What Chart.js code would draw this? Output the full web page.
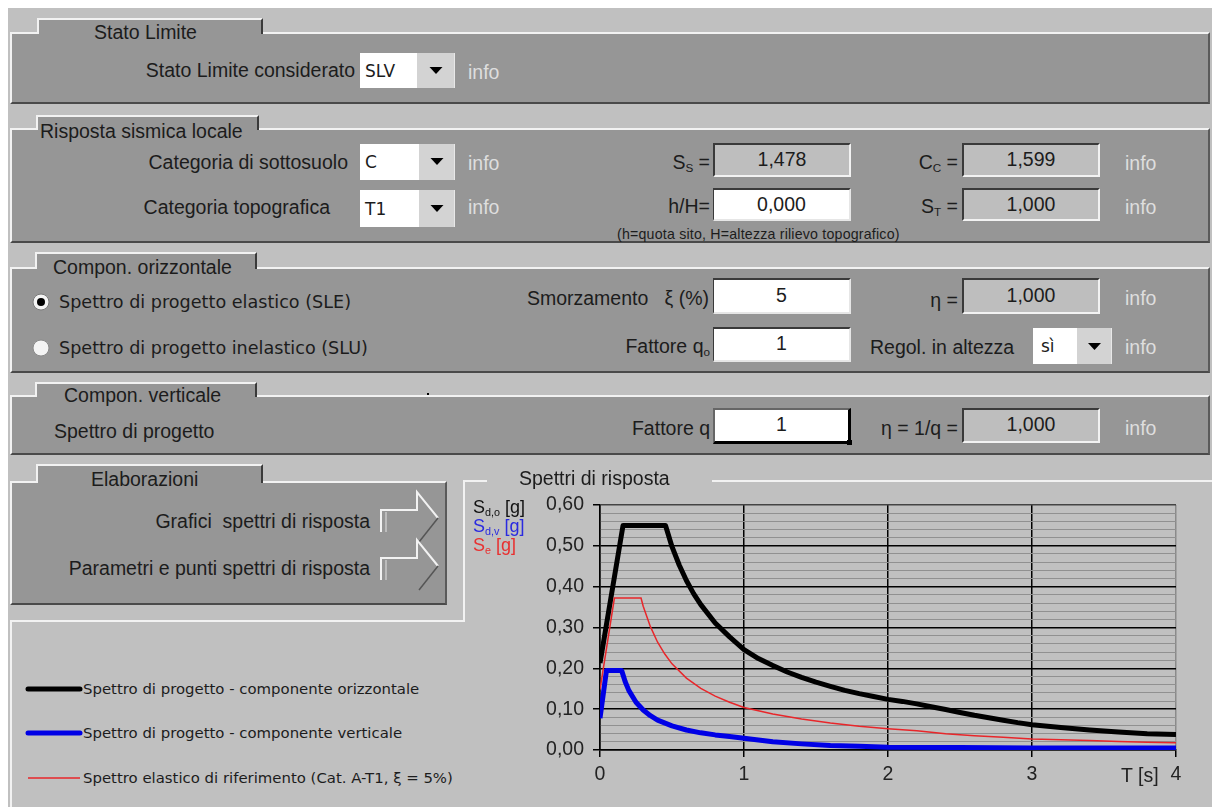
<!DOCTYPE html>
<html>
<head>
<meta charset="utf-8">
<script src="https://cdn.jsdelivr.net/npm/chart.js@4.4.0/dist/chart.umd.min.js"></script>
<style>
html,body{margin:0;padding:0;}
body{width:1212px;height:807px;position:relative;overflow:hidden;background:#fff;font-family:"Liberation Sans",Arial,sans-serif;color:#1c1c1c;}
#bg{position:absolute;left:8px;top:8px;width:1204px;height:799px;background:#c0c0c0;}
.panel{position:absolute;background:#969696;border-top:2px solid #f2f2f2;border-left:2px solid #f2f2f2;border-bottom:2px solid #4a4a4a;border-right:2px solid #5a5a5a;box-sizing:border-box;z-index:1;}
.tab{position:absolute;background:#969696;border-top:2px solid #f2f2f2;border-left:2px solid #f2f2f2;border-right:2px solid #3a3a3a;box-sizing:border-box;z-index:2;}
.t{position:absolute;white-space:nowrap;font-size:19.5px;line-height:20px;height:20px;z-index:3;}
.info{color:#dedede;}
.v{font-family:"DejaVu Sans",Verdana,sans-serif;}
.box{position:absolute;box-sizing:border-box;z-index:3;font-size:19.5px;text-align:center;white-space:nowrap;}
.wb{background:#fff;border-top:2px solid #3a3a3a;border-left:1px solid #3a3a3a;border-bottom:2px solid #e6e6e6;border-right:2px solid #e6e6e6;}
.gb{background:#bebebe;border-top:2px solid #3a3a3a;border-left:2px solid #3a3a3a;border-bottom:2px solid #f2f2f2;border-right:2px solid #f2f2f2;}
.dd{background:#fff;text-align:left;font-family:"DejaVu Sans",Verdana,sans-serif;font-size:17px;padding-left:5px;}
.ab{background:#d3d3d3;border-right:1px solid #e8e8e8;}
.line{position:absolute;background:#f2f2f2;z-index:2;}
sub{font-size:60%;vertical-align:-3px;line-height:0;}
#chartwrap{position:absolute;left:465px;top:482px;width:747px;height:325px;z-index:1;}
#ov{position:absolute;left:0;top:0;z-index:5;pointer-events:none;}
</style>
</head>
<body>
<div id="bg"></div>

<!-- Panel 1 -->
<div class="panel" style="left:10px;top:32px;width:1200px;height:72px;"></div>
<div class="tab" style="left:37px;top:18px;width:226px;height:16px;"></div>
<div class="t" style="left:94px;top:22px;">Stato Limite</div>
<div class="t" style="right:857px;top:60px;">Stato Limite considerato</div>
<div class="box dd" style="left:360px;top:53px;width:57px;height:35px;line-height:37px;">SLV</div>
<div class="box ab" style="left:417px;top:53px;width:38px;height:35px;"></div>
<div class="t info" style="left:468px;top:62px;">info</div>

<!-- Panel 2 -->
<div class="panel" style="left:10px;top:128px;width:1200px;height:115px;"></div>
<div class="tab" style="left:36px;top:115px;width:223px;height:15px;"></div>
<div class="t" style="left:40px;top:121px;">Risposta sismica locale</div>
<div class="t" style="right:864px;top:152px;">Categoria di sottosuolo</div>
<div class="box dd" style="left:360px;top:144px;width:59px;height:36px;line-height:36px;">C</div>
<div class="box ab" style="left:419px;top:144px;width:36px;height:36px;"></div>
<div class="t info" style="left:468px;top:153px;">info</div>
<div class="t" style="right:502px;top:152px;">S<sub>S</sub> =</div>
<div class="box gb" style="left:713px;top:143px;width:138px;height:34px;line-height:29px;">1,478</div>
<div class="t" style="right:254px;top:152px;">C<sub>C</sub> =</div>
<div class="box gb" style="left:962px;top:143px;width:138px;height:34px;line-height:29px;">1,599</div>
<div class="t info" style="left:1125px;top:153px;">info</div>

<div class="t" style="right:882px;top:197px;">Categoria topografica</div>
<div class="box dd" style="left:360px;top:190px;width:59px;height:37px;line-height:39px;">T1</div>
<div class="box ab" style="left:419px;top:190px;width:36px;height:37px;"></div>
<div class="t info" style="left:468px;top:197px;">info</div>
<div class="t" style="right:502px;top:196px;">h/H=</div>
<div class="box wb" style="left:713px;top:188px;width:138px;height:33px;line-height:29px;">0,000</div>
<div class="t" style="right:254px;top:196px;">S<sub>T</sub> =</div>
<div class="box gb" style="left:962px;top:188px;width:138px;height:33px;line-height:28px;">1,000</div>
<div class="t info" style="left:1125px;top:197px;">info</div>
<div class="t" style="left:617px;top:224px;font-size:14.2px;letter-spacing:0.2px;">(h=quota sito, H=altezza rilievo topografico)</div>

<!-- Panel 3 -->
<div class="panel" style="left:10px;top:267px;width:1200px;height:106px;"></div>
<div class="tab" style="left:35px;top:252px;width:222px;height:17px;"></div>
<div class="t" style="left:53px;top:257px;">Compon. orizzontale</div>
<div class="t v" style="left:59px;top:292px;font-size:17.6px;">Spettro di progetto elastico (SLE)</div>
<div class="t v" style="left:59px;top:338px;font-size:17.6px;">Spettro di progetto inelastico (SLU)</div>
<div class="t" style="right:503px;top:288px;">Smorzamento &nbsp;&nbsp;ξ (%)</div>
<div class="box wb" style="left:713px;top:278px;width:138px;height:36px;line-height:30px;">5</div>
<div class="t" style="right:254px;top:290px;">η =</div>
<div class="box gb" style="left:962px;top:278px;width:138px;height:36px;line-height:30px;">1,000</div>
<div class="t info" style="left:1125px;top:288px;">info</div>
<div class="t" style="right:502px;top:336px;">Fattore q<sub>o</sub></div>
<div class="box wb" style="left:713px;top:327px;width:138px;height:35px;line-height:28px;">1</div>
<div class="t" style="left:870px;top:337px;">Regol. in altezza</div>
<div class="box dd" style="left:1033px;top:328px;width:44px;height:36px;line-height:36px;padding-left:8px;">sì</div>
<div class="box ab" style="left:1077px;top:328px;width:35px;height:36px;"></div>
<div class="t info" style="left:1125px;top:337px;">info</div>

<!-- Panel 4 -->
<div class="panel" style="left:10px;top:395px;width:1200px;height:60px;"></div>
<div class="tab" style="left:35px;top:382px;width:222px;height:15px;"></div>
<div class="t" style="left:64px;top:385px;">Compon. verticale</div>
<div class="t" style="left:54px;top:421px;">Spettro di progetto</div>
<div class="t" style="right:502px;top:418px;">Fattore q</div>
<div class="box" style="left:713px;top:408px;width:138px;height:36px;line-height:29px;background:#fff;border-top:2px solid #666;border-left:2px solid #666;border-right:3px solid #000;border-bottom:3px solid #000;">1</div>
<div class="t" style="right:254px;top:418px;">η = 1/q =</div>
<div class="box gb" style="left:962px;top:408px;width:138px;height:35px;line-height:29px;">1,000</div>
<div class="t info" style="left:1125px;top:418px;">info</div>

<!-- Panel 5 -->
<div class="panel" style="left:10px;top:481px;width:437px;height:124px;"></div>
<div class="tab" style="left:36px;top:464px;width:227px;height:19px;"></div>
<div class="t" style="left:91px;top:469px;">Elaborazioni</div>
<div class="t" style="right:842px;top:511px;">Grafici &nbsp;spettri di risposta</div>
<div class="t" style="right:842px;top:558px;">Parametri e punti spettri di risposta</div>

<!-- frames -->
<div class="line" style="left:463px;top:480px;width:24px;height:2px;"></div>
<div class="line" style="left:712px;top:480px;width:500px;height:2px;"></div>
<div class="line" style="left:463px;top:480px;width:2px;height:142px;"></div>
<div class="line" style="left:10px;top:620px;width:455px;height:2px;"></div>
<div class="line" style="left:10px;top:620px;width:2px;height:187px;"></div>
<div class="t" style="left:519px;top:468px;">Spettri di risposta</div>

<!-- legend -->
<div class="t v" style="left:83px;top:679px;font-size:14.9px;">Spettro di progetto - componente orizzontale</div>
<div class="t v" style="left:83px;top:723px;font-size:14.9px;">Spettro di progetto - componente verticale</div>
<div class="t v" style="left:83px;top:768px;font-size:14.9px;">Spettro elastico di riferimento (Cat. A-T1, ξ = 5%)</div>

<!-- axis titles -->
<div class="t" style="left:473px;top:497px;font-size:18px;color:#111;z-index:6;">S<sub>d,o</sub> [g]</div>
<div class="t" style="left:473px;top:516px;font-size:18px;color:#2a2ae0;z-index:6;">S<sub>d,v</sub> [g]</div>
<div class="t" style="left:473px;top:535px;font-size:18px;color:#e83030;z-index:6;">S<sub>e</sub> [g]</div>
<div class="t" style="left:1121px;top:765px;z-index:6;color:#222;">T [s]</div>

<div id="chartwrap"><canvas id="c" width="747" height="325"></canvas></div>

<svg id="ov" width="1212" height="807">
  <!-- dropdown triangles -->
  <polygon points="429.5,67 442.5,67 436,74" fill="#000"/>
  <polygon points="430.5,158 443.5,158 437,165" fill="#000"/>
  <polygon points="430.5,205 443.5,205 437,212" fill="#000"/>
  <polygon points="1088,343 1101,343 1094.5,350" fill="#000"/>
  <!-- radios -->
  <circle cx="41" cy="302" r="8" fill="#f4f4f4" stroke="#7a7a7a" stroke-width="1"/>
  <circle cx="41" cy="302" r="4" fill="#000"/>
  <circle cx="41" cy="348" r="8" fill="#f4f4f4" stroke="#8a8a8a" stroke-width="1"/>
  <!-- dot -->
  <rect x="427" y="393" width="2" height="2" fill="#000"/>
  <!-- fill handle -->
  <rect x="847" y="440" width="5" height="5" fill="#000"/>
  <!-- arrows -->
  <polyline points="381,532 381,510 417,510 417,492 438,518" fill="none" stroke="#f2f2f2" stroke-width="2"/>
  <line x1="386" y1="512" x2="386" y2="532" stroke="#e2e2e2" stroke-width="1"/>
  <line x1="438" y1="518" x2="419" y2="542" stroke="#555" stroke-width="1.5"/>
  <polyline points="381,580 381,558 417,558 417,540 438,566" fill="none" stroke="#f2f2f2" stroke-width="2"/>
  <line x1="386" y1="560" x2="386" y2="580" stroke="#e2e2e2" stroke-width="1"/>
  <line x1="438" y1="566" x2="419" y2="590" stroke="#555" stroke-width="1.5"/>
  <!-- legend lines -->
  <line x1="28" y1="689" x2="80" y2="689" stroke="#000" stroke-width="5" stroke-linecap="round"/>
  <line x1="28" y1="733" x2="80" y2="733" stroke="#0000e6" stroke-width="5" stroke-linecap="round"/>
  <line x1="28" y1="778" x2="80" y2="778" stroke="#e8262a" stroke-width="1.5"/>
</svg>

<script>
// Spettro di progetto - componente orizzontale (Sd,o)
const T_oriz = [0, 0.16, 0.455, 0.5, 0.55, 0.6, 0.65, 0.7, 0.8, 0.9, 1.0, 1.1, 1.2, 1.3, 1.4, 1.5, 1.6, 1.7, 1.8, 1.9, 2.0, 2.1, 2.2, 2.3, 2.4, 2.5, 2.6, 2.7, 2.8, 2.9, 3.0, 3.2, 3.4, 3.6, 3.8, 4.0];
const Sd_o   = [0.213, 0.550, 0.550, 0.498, 0.453, 0.415, 0.383, 0.356, 0.311, 0.277, 0.246, 0.224, 0.207, 0.191, 0.178, 0.166, 0.156, 0.146, 0.138, 0.131, 0.124, 0.119, 0.113, 0.106, 0.099, 0.092, 0.085, 0.079, 0.073, 0.067, 0.062, 0.055, 0.049, 0.044, 0.040, 0.038];
// Spettro di progetto - componente verticale (Sd,v)
const T_vert = [0, 0.045, 0.15, 0.175, 0.2, 0.25, 0.3, 0.35, 0.4, 0.5, 0.6, 0.7, 0.8, 0.9, 1.0, 1.2, 1.4, 1.6, 1.8, 2.0, 2.5, 3.0, 3.5, 4.0];
const Sd_v   = [0.078, 0.195, 0.195, 0.167, 0.146, 0.117, 0.098, 0.084, 0.073, 0.059, 0.049, 0.042, 0.037, 0.033, 0.029, 0.020, 0.015, 0.011, 0.009, 0.007, 0.006, 0.005, 0.005, 0.005];
// Spettro elastico di riferimento (Se)
const T_rif  = [0, 0.1, 0.285, 0.3, 0.35, 0.4, 0.45, 0.5, 0.6, 0.7, 0.8, 0.9, 1.0, 1.2, 1.4, 1.6, 1.8, 2.0, 2.2, 2.4, 2.6, 2.8, 3.0, 3.2, 3.4, 3.6, 3.8, 4.0];
const Se     = [0.148, 0.372, 0.372, 0.352, 0.302, 0.264, 0.235, 0.211, 0.176, 0.151, 0.132, 0.117, 0.104, 0.088, 0.076, 0.066, 0.058, 0.052, 0.047, 0.040, 0.035, 0.031, 0.027, 0.025, 0.023, 0.021, 0.019, 0.018];

const seriesLabels = ['Spettro di progetto - componente orizzontale', 'Spettro di progetto - componente verticale', 'Spettro elastico di riferimento (Cat. A-T1, ξ = 5%)'];
const yTickLabels = ['0,00', '0,10', '0,20', '0,30', '0,40', '0,50', '0,60'];
const xTickLabels = ['0', '1', '2', '3', '4'];

const toXY = (t, v) => t.map((x, i) => ({ x: x, y: v[i] }));
const isMajorY = v => Math.abs(v * 10 - Math.round(v * 10)) < 1e-6;

new Chart(document.getElementById('c'), {
  type: 'line',
  data: {
    datasets: [
      { label: seriesLabels[0], data: toXY(T_oriz, Sd_o), borderColor: '#000000', borderWidth: 5, pointRadius: 0, tension: 0, order: 3, borderJoinStyle: 'round' },
      { label: seriesLabels[1], data: toXY(T_vert, Sd_v), borderColor: '#0000e6', borderWidth: 5, pointRadius: 0, tension: 0, order: 2, borderJoinStyle: 'round' },
      { label: seriesLabels[2], data: toXY(T_rif, Se), borderColor: '#e8262a', borderWidth: 1.5, pointRadius: 0, tension: 0, order: 1 }
    ]
  },
  options: {
    responsive: false,
    animation: false,
    layout: { padding: { top: 23, right: 36, left: 0, bottom: 0 } },
    plugins: { legend: { display: false }, tooltip: { enabled: false } },
    scales: {
      x: {
        type: 'linear', min: 0, max: 4,
        ticks: {
          stepSize: 1, autoSkip: false, maxRotation: 0, padding: 6,
          color: '#222', font: { family: 'Liberation Sans', size: 19.5 },
          callback: v => { const i = Math.round(v); return Math.abs(v - i) < 1e-6 && xTickLabels[i] !== undefined ? xTickLabels[i] : ''; }
        },
        grid: {
          color: c => (c.tick && Math.round(c.tick.value) === 4) ? '#8a8a8a' : '#000',
          lineWidth: 1.5, tickLength: 7, tickColor: '#000'
        },
        border: { color: '#000', width: 1.5 },
        afterFit: s => { s.height = 57; }
      },
      y: {
        type: 'linear', min: 0, max: 0.6,
        ticks: {
          stepSize: 0.02, autoSkip: false, maxTicksLimit: 50, padding: 9,
          color: '#222', font: { family: 'Liberation Sans', size: 19.5 },
          callback: v => isMajorY(v) ? yTickLabels[Math.round(v * 10)] : ''
        },
        grid: {
          color: c => {
            if (!c.tick) return '#909090';
            const v = c.tick.value;
            if (Math.abs(v - 0.6) < 1e-6) return '#444';
            return isMajorY(v) ? '#000' : '#909090';
          },
          lineWidth: c => (c.tick && isMajorY(c.tick.value)) ? 1.5 : 1,
          tickLength: 7,
          tickColor: c => (c.tick && isMajorY(c.tick.value)) ? '#000' : 'rgba(0,0,0,0)'
        },
        border: { color: '#000', width: 1.5 },
        afterFit: s => { s.width = 135; }
      }
    }
  }
});
</script>
</body>
</html>
